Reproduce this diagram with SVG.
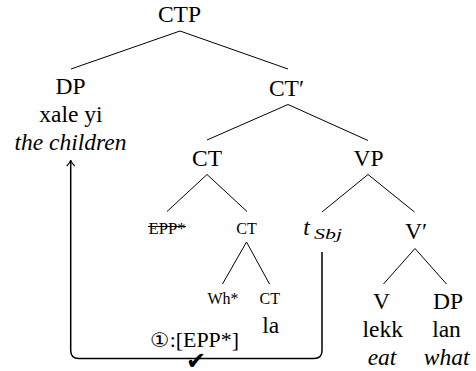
<svg xmlns="http://www.w3.org/2000/svg" width="476" height="371" viewBox="0 0 476 371">
  <style>
    .edge { stroke: #000; stroke-width: 1; fill: none; }
    .move { stroke: #000; stroke-width: 1.5; fill: none; }
  </style>
  <defs>
    <marker id="tip" viewBox="0 0 8 10" refX="7" refY="5" markerWidth="8" markerHeight="10" markerUnits="userSpaceOnUse" orient="auto">
      <path d="M1.5,1 Q4.5,4 7,5 Q4.5,6 1.5,9" fill="none" stroke="#000" stroke-width="1.1"/>
    </marker>
  </defs>
  <rect width="476" height="371" fill="#fff"/>

  <g id="connectors">
    <line class="edge" x1="180" y1="31" x2="71" y2="69"/>
    <line class="edge" x1="180" y1="31" x2="288" y2="69"/>
    <line class="edge" x1="288" y1="104.5" x2="207" y2="140"/>
    <line class="edge" x1="288" y1="104.5" x2="368" y2="140.5"/>
    <line class="edge" x1="207" y1="174.5" x2="167" y2="211.5"/>
    <line class="edge" x1="207" y1="174.5" x2="247" y2="211.5"/>
    <line class="edge" x1="368" y1="174.5" x2="322" y2="212"/>
    <line class="edge" x1="368" y1="174.5" x2="414.5" y2="212"/>
    <line class="edge" x1="246.5" y1="242" x2="222.5" y2="284"/>
    <line class="edge" x1="246.5" y1="242" x2="269.5" y2="284"/>
    <line class="edge" x1="415" y1="248.5" x2="383.5" y2="284"/>
    <line class="edge" x1="415" y1="248.5" x2="446.5" y2="284"/>
    <path class="move" d="M322,252 V350.5 Q322,358.5 314,358.5 H78.7 Q70.7,358.5 70.7,350.5 V160.5" marker-end="url(#tip)"/>
  </g>

  <g font-family="Liberation Serif" text-anchor="middle" font-size="23.5" fill="#000">
    <g id="ctp"><text x="179.5" y="22">CTP</text></g>
    <g id="dp-subj">
      <text x="70.5" y="94">DP</text>
      <text x="71" y="122">xale yi</text>
      <text font-style="italic" x="70.5" y="150">the children</text>
    </g>
    <g id="ct-bar"><text x="286.5" y="96">CT′</text></g>
    <g id="ct"><text x="207" y="166">CT</text></g>
    <g id="vp"><text x="368.5" y="166">VP</text></g>
    <g id="epp">
      <text font-size="16" x="167" y="234" textLength="37" lengthAdjust="spacingAndGlyphs">EPP*</text>
      <line x1="148" y1="226.5" x2="186" y2="226.5" stroke="#000" stroke-width="1"/>
    </g>
    <g id="ct-low"><text font-size="16" x="246.5" y="234">CT</text></g>
    <g id="t-sbj">
      <text font-style="italic" x="306.5" y="234.5">t</text>
      <text font-style="italic" text-anchor="start" x="314" y="238.5" font-size="15" textLength="28" lengthAdjust="spacingAndGlyphs">Sbj</text>
    </g>
    <g id="v-bar"><text x="416" y="239">V′</text></g>
    <g id="wh"><text font-size="16" x="223" y="304">Wh*</text></g>
    <g id="ct-head">
      <text font-size="16" x="269.7" y="304">CT</text>
      <text x="270.7" y="333">la</text>
    </g>
    <g id="v">
      <text x="381.5" y="309">V</text>
      <text x="382.7" y="337">lekk</text>
      <text font-style="italic" x="382" y="365">eat</text>
    </g>
    <g id="dp-obj">
      <text x="448" y="309">DP</text>
      <text x="446.5" y="337">lan</text>
      <text font-style="italic" x="446.7" y="365">what</text>
    </g>
    <g id="feature">
      <text x="194.5" y="346.5" font-size="20" textLength="89" lengthAdjust="spacingAndGlyphs"><tspan font-family="DejaVu Sans">①</tspan>:[EPP*]</text>
      <text font-family="DejaVu Sans" x="196" y="368.5" font-size="24">✔</text>
    </g>
  </g>
</svg>
